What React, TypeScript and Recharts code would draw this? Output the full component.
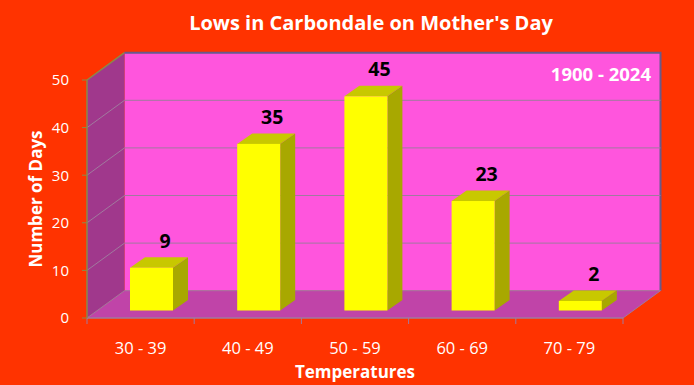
import React from 'react';
import { BarChart, Bar, XAxis, YAxis, CartesianGrid } from 'recharts';

const categories = ['30 - 39', '40 - 49', '50 - 59', '60 - 69', '70 - 79'];
const days = [9, 35, 45, 23, 2];
const yTicks = [0, 10, 20, 30, 40, 50];
const title = "Lows in Carbondale on Mother's Day";
const subtitle = '1900 - 2024';
const xTitle = 'Temperatures';
const yTitle = 'Number of Days';

const data = categories.map((c, i) => ({ category: c, days: days[i] }));

const W = 694;
const H = 385;
const FONT = '"Open Sans", Lato, sans-serif';
const DX = 37.5;
const DY = -27.3;
const BFX = 11;
const BFY = -7.5;
const BDX = 15;
const BDY = -10.5;

const C = {
  bg: '#FF3300',
  back: '#FF55DD',
  left: '#A0388C',
  floor: '#C044A8',
  grid: '#A07A9E',
  border: '#6A5A8A',
  axis: '#8A8A4A',
  front: '#FFFF00',
  top: '#C8C800',
  side: '#A8A800',
};

const GridLine = (props: any) => {
  const { x1, x2, y1, index } = props;
  const pts: number[] = props.horizontalPoints || [y1];
  const top = typeof props.y === 'number' ? props.y : Math.min(...pts);
  const bottom = typeof props.height === 'number' ? top + props.height : Math.max(...pts);
  const left = x1;
  const right = x2;
  const isTop = Math.abs(y1 - top) < 0.5;
  const line = isTop ? null : (
    <g>
      <line x1={left} y1={y1} x2={left + DX} y2={y1 + DY} stroke={C.grid} strokeWidth={1} />
      <line x1={left + DX} y1={y1 + DY} x2={right + DX} y2={y1 + DY} stroke={C.grid} strokeWidth={1} />
    </g>
  );
  if (index !== 0) return <g key={props.key}>{line}</g>;
  const n = categories.length;
  const bw = (right - left) / n;
  const tickXs = Array.from({ length: n + 1 }, (_, i) => left + i * bw);
  return (
    <g key={props.key}>
      <rect x={left + DX} y={top + DY} width={right - left} height={bottom - top} fill={C.back} />
      <polygon
        points={`${left},${top} ${left + DX},${top + DY} ${left + DX},${bottom + DY} ${left},${bottom}`}
        fill={C.left}
      />
      <polygon
        points={`${left},${bottom} ${right},${bottom} ${right + DX},${bottom + DY} ${left + DX},${bottom + DY}`}
        fill={C.floor}
      />
      <line x1={left} y1={top} x2={left + DX} y2={top + DY} stroke={C.axis} strokeWidth={1.5} />
      <polyline
        points={`${left + DX},${top + DY} ${right + DX},${top + DY} ${right + DX},${bottom + DY}`}
        fill="none"
        stroke={C.border}
        strokeWidth={2}
      />
      <line x1={right} y1={bottom} x2={right + DX} y2={bottom + DY} stroke={C.grid} strokeWidth={1} />
      <line x1={left} y1={bottom} x2={right} y2={bottom} stroke={C.grid} strokeWidth={1.5} />
      {tickXs.map((tx, i) => (
        <line key={i} x1={tx} y1={bottom} x2={tx} y2={bottom + 6} stroke={C.grid} strokeWidth={1} />
      ))}
      {line}
    </g>
  );
};

const Bar3D = (props: any) => {
  const { x, y, width, height } = props;
  if (x == null || height == null) return null;
  const fx = x + BFX;
  const fy = y + BFY;
  const b = fy + height;
  const value = props.payload && props.payload.days != null ? props.payload.days : props.value;
  return (
    <g>
      <polygon
        points={`${fx},${fy} ${fx + BDX},${fy + BDY} ${fx + width + BDX},${fy + BDY} ${fx + width},${fy}`}
        fill={C.top}
      />
      <polygon
        points={`${fx + width},${fy} ${fx + width + BDX},${fy + BDY} ${fx + width + BDX},${b + BDY} ${fx + width},${b}`}
        fill={C.side}
      />
      <rect x={fx} y={fy} width={width} height={height} fill={C.front} />
      <text
        x={fx + width / 2 + 13.5}
        y={fy + BDY - 16.5}
        dy="0.36em"
        textAnchor="middle"
        fontFamily={FONT}
        fontWeight="bold"
        fontSize={19.5}
        fill="#000"
      >
        {value}
      </text>
    </g>
  );
};

export default function App() {
  return (
    <div
      style={{
        position: 'absolute',
        left: 0,
        top: 0,
        width: W,
        height: H,
        background: C.bg,
        fontFamily: FONT,
        overflow: 'hidden',
      }}
    >
      <BarChart
        width={W}
        height={H}
        data={data}
        margin={{ top: 80, right: 71, bottom: 0, left: 0 }}
        barSize={43}
      >
        <CartesianGrid vertical={false} horizontal={GridLine as any} />
        <XAxis
          dataKey="category"
          height={67}
          axisLine={false}
          tickLine={false}
          tickMargin={18}
          tick={{ fill: '#FFFFFF', fontSize: 16.5, fontFamily: FONT }}
        />
        <YAxis
          width={87}
          domain={[0, 50]}
          ticks={yTicks}
          interval={0}
          axisLine={{ stroke: C.axis, strokeWidth: 1.5 }}
          tickLine={{ stroke: C.axis }}
          tickSize={5}
          tickMargin={13}
          tick={{ fill: '#FFFFFF', fontSize: 15, fontFamily: FONT }}
        />
        <Bar dataKey="days" shape={Bar3D} isAnimationActive={false} />
      </BarChart>
      <div
        style={{
          position: 'absolute',
          left: 371,
          top: 22,
          transform: 'translate(-50%, -50%)',
          color: '#fff',
          fontWeight: 'bold',
          fontSize: 20,
          whiteSpace: 'nowrap',
        }}
      >
        {title}
      </div>
      <div
        style={{
          position: 'absolute',
          right: W - 651,
          top: 73,
          transform: 'translateY(-50%)',
          color: '#fff',
          fontWeight: 'bold',
          fontSize: 18.5,
          whiteSpace: 'nowrap',
        }}
      >
        {subtitle}
      </div>
      <div
        style={{
          position: 'absolute',
          left: 355,
          top: 371,
          transform: 'translate(-50%, -50%)',
          color: '#fff',
          fontWeight: 'bold',
          fontSize: 17,
          whiteSpace: 'nowrap',
        }}
      >
        {xTitle}
      </div>
      <div
        style={{
          position: 'absolute',
          left: 35,
          top: 199,
          transform: 'translate(-50%, -50%) rotate(-90deg)',
          color: '#fff',
          fontWeight: 'bold',
          fontSize: 17,
          whiteSpace: 'nowrap',
        }}
      >
        {yTitle}
      </div>
    </div>
  );
}
